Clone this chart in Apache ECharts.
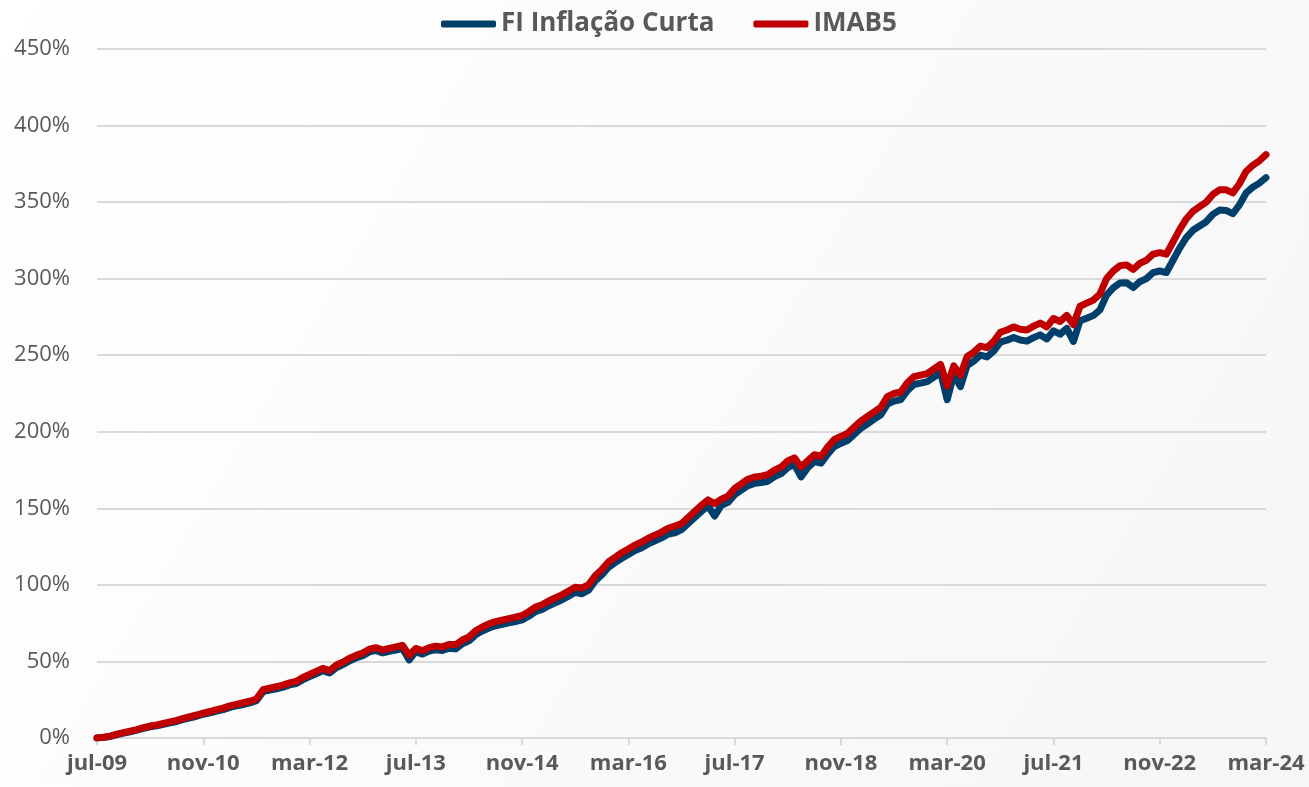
<!DOCTYPE html>
<html>
<head>
<meta charset="utf-8">
<script src="https://cdn.jsdelivr.net/npm/echarts@6/dist/echarts.min.js"></script>
<style>
  html, body { margin: 0; padding: 0; }
  #retorno { width: 1309px; height: 787px; }
</style>
</head>
<body>
<div id="retorno"></div>
<script>
  // meses (jul-09 ... mar-24), um ponto por mês
  const monthNames = ['jan','fev','mar','abr','mai','jun','jul','ago','set','out','nov','dez'];
  const startYear = 2009, startMonth = 6, nMonths = 177;

  const yTicks = [0, 50, 100, 150, 200, 250, 300, 350, 400, 450];

  // retorno acumulado (%)
  const fiInflacaoCurta = [
    0, 0.4, 1.0, 2.2, 3.2, 4.1, 5.1, 6.3, 7.3, 8.0, 8.9, 9.9,
    10.8, 12.1, 13.2, 14.2, 15.5, 16.4, 17.6, 18.5, 20.0, 21.0, 21.9, 22.9,
    24.3, 30.3, 31.3, 32.2, 33.2, 34.7, 35.6, 38.1, 40.1, 42.0, 44.0, 42.4,
    45.9, 47.9, 50.3, 52.3, 53.7, 56.2, 57.2, 55.6, 56.6, 57.5, 58.5, 51.0,
    56.4, 54.8, 56.8, 57.7, 57.2, 58.6, 58.2, 61.5, 63.5, 67.4, 69.9, 71.8,
    73.3, 74.2, 75.2, 76.1, 77.1, 79.5, 82.5, 83.9, 86.4, 88.3, 90.3, 92.7,
    95.2, 94.2, 96.6, 102.6, 106.5, 111.5, 114.5, 117.4, 119.9, 122.4, 124.3, 126.8,
    128.8, 130.7, 133.2, 134.0, 136.1, 140.1, 144.1, 148.0, 151.5, 145.0, 152.0, 153.9,
    158.9, 161.9, 164.8, 166.3, 166.8, 167.7, 170.7, 172.7, 176.6, 178.6, 170.5, 176.5,
    180.5, 179.5, 185.4, 190.4, 192.4, 194.3, 198.3, 202.3, 205.2, 208.2, 211.1, 218.1,
    220.0, 221.0, 226.9, 230.9, 231.8, 232.8, 235.7, 238.7, 221.0, 237.5, 229.5, 243.3,
    246.2, 250.0, 248.9, 252.7, 258.5, 259.8, 261.6, 259.9, 259.2, 261.5, 263.3, 260.6,
    265.9, 263.7, 267.5, 259.0, 272.5, 274.2, 275.9, 279.6, 289.3, 294.0, 297.2, 297.4,
    294.2, 298.0, 300.0, 304.0, 305.0, 304.0, 312.0, 320.0, 326.8, 331.6, 334.4, 337.2,
    342.0, 344.8, 344.6, 342.4, 348.2, 356.0, 359.7, 362.4, 366.0
  ];
  const imab5 = [
    0, 0.5, 1.2, 2.5, 3.5, 4.5, 5.5, 6.8, 7.8, 8.5, 9.5, 10.5,
    11.5, 12.8, 14, 15, 16.3, 17.3, 18.5, 19.5, 21, 22, 23, 24,
    25.5, 31.5, 32.5, 33.5, 34.5, 36, 37, 39.5, 41.5, 43.5, 45.5, 44,
    47.5, 49.5, 52, 54, 55.5, 58, 59, 57.5, 58.5, 59.5, 60.5, 54,
    58.5, 57, 59, 60, 59.5, 61, 61, 64, 66, 70, 72.5, 74.5,
    76, 77, 78, 79, 80, 82.5, 85.5, 87, 89.5, 91.5, 93.5, 96,
    98.5, 98, 100, 106, 110, 115, 118, 121, 123.5, 126, 128, 130.5,
    132.5, 134.5, 137, 138.5, 140, 144, 148, 152, 155.5, 153, 156, 158,
    163, 166, 169, 170.5, 171, 172, 175, 177, 181, 183, 177, 181,
    185, 184, 190, 195, 197, 199, 203, 207, 210, 213, 216, 223,
    225, 226, 232, 236, 237, 238, 241, 244, 230, 243, 237, 249,
    252, 256, 255, 259, 265, 266.5, 268.5, 267, 266.5, 269, 271, 268.5,
    274, 272, 276, 270, 282, 284, 286, 290, 300, 305, 308.5, 309,
    306, 310, 312, 316, 317, 316, 324, 332, 339, 344, 347, 350,
    355, 358, 358, 356, 362, 370, 374, 377, 381
  ];

  let categories = [];
  for (let i = 0; i < nMonths; i++) {
    let m = (startMonth + i) % 12;
    let y = startYear + Math.floor((startMonth + i) / 12);
    categories.push(monthNames[m] + '-' + String(y).slice(2));
  }

  let myChart = echarts.init(document.getElementById('retorno'));
  myChart.setOption({
    backgroundColor: {
      type: 'linear', x: 0, y: 0, x2: 1, y2: 1,
      colorStops: [{ offset: 0, color: '#ffffff' }, { offset: 1, color: '#f6f6f6' }]
    },
    animation: false,
    textStyle: { fontFamily: 'Open Sans' },
    grid: {
      left: 97,
      right: 43,
      top: 49,
      bottom: 49
    },
    color: ['#003f6b', '#c00000'],
    legend: {
      left: 436,
      top: 6,
      icon: 'roundRect',
      itemWidth: 55,
      itemHeight: 7,
      itemGap: 39,
      textStyle: {
        color: '#595959',
        fontSize: 26,
        fontWeight: 'bold'
      }
    },
    xAxis: {
      type: 'category',
      boundaryGap: false,
      data: categories,
      axisLine: {
        lineStyle: { color: '#d9d9d9', width: 2 }
      },
      axisTick: {
        show: true,
        interval: 15,
        length: 7,
        lineStyle: { color: '#d9d9d9', width: 2 }
      },
      axisLabel: {
        interval: 15,
        margin: 15,
        color: '#595959',
        fontSize: 22,
        fontWeight: 'bold'
      },
      splitLine: { show: false }
    },
    yAxis: {
      type: 'value',
      min: yTicks[0],
      max: yTicks[yTicks.length - 1],
      interval: yTicks[1] - yTicks[0],
      axisLine: { show: false },
      axisTick: { show: false },
      axisLabel: {
        margin: 27,
        color: '#595959',
        fontSize: 22,
        formatter: '{value}%'
      },
      splitLine: {
        lineStyle: { color: '#d9d9d9', width: 2 }
      }
    },
    series: [{
      name: 'FI Inflação Curta',
      type: 'line',
      symbol: 'none',
      data: fiInflacaoCurta,
      lineStyle: { color: '#003f6b', width: 7, cap: 'round', join: 'round' }
    }, {
      name: 'IMAB5',
      type: 'line',
      symbol: 'none',
      data: imab5,
      lineStyle: { color: '#c00000', width: 7, cap: 'round', join: 'round' }
    }]
  });

  window.addEventListener('resize', () => {
    myChart.resize();
  });
</script>
</body>
</html>
